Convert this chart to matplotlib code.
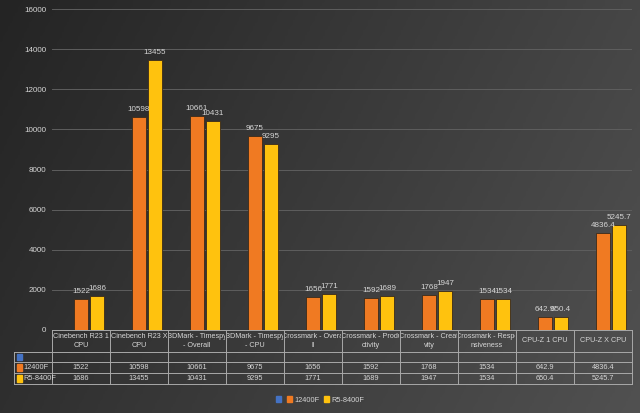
import numpy as np
import matplotlib
matplotlib.use("Agg")
import matplotlib.pyplot as plt
from matplotlib import transforms
from matplotlib.patches import Rectangle

plt.rcParams["font.family"] = ["Liberation Sans", "DejaVu Sans"]

categories = ["Cinebench R23 1\nCPU", "Cinebench R23 X\nCPU", "3DMark - Timespy\n- Overall",
              "3DMark - Timespy\n- CPU", "Crossmark - Overa\nll", "Crossmark - Produ\nctivity",
              "Crossmark - Creati\nvity", "Crossmark - Respo\nnsiveness", "CPU-Z 1 CPU", "CPU-Z X CPU"]
series_names = ["", "12400F", "R5-8400F"]
vals_12400f = [1522, 10598, 10661, 9675, 1656, 1592, 1768, 1534, 642.9, 4836.4]
vals_r5 = [1686, 13455, 10431, 9295, 1771, 1689, 1947, 1534, 650.4, 5245.7]
yticks = [0, 2000, 4000, 6000, 8000, 10000, 12000, 14000, 16000]

colors = ["#4472C4", "#F07A22", "#FFC20E"]
txt = "#d6d6d6"
fs = 5.3

fig = plt.figure(figsize=(6.4, 4.13), dpi=100)
# background gradient
bg = fig.add_axes([0, 0, 1, 1], zorder=-10)
gx = np.linspace(0, 1, 256)
gy = np.linspace(0, 1, 128)
G = 0.55 * gx[None, :] + 0.45 * gy[:, None] * 0.4
bg.imshow(G, aspect="auto", cmap=matplotlib.colors.LinearSegmentedColormap.from_list(
    "g", ["#242424", "#525252"]), extent=[0, 1, 0, 1], origin="upper", vmin=0, vmax=0.75)
bg.axis("off")

ax = fig.add_axes([52/640, 1-330/413, 580/640, 321/413])
ax.set_facecolor("none")
n = len(categories)
x = np.arange(n)
slot = 0.276
bw = 0.225
series_vals = [[np.nan]*n, vals_12400f, vals_r5]
for k, vals in enumerate(series_vals):
    off = (k - 1) * slot
    ax.bar(x + off, vals, width=bw, color=colors[k], edgecolor="#3a2a1a", linewidth=0.6, zorder=3)
    if k > 0:
        for xi, v in zip(x, vals):
            lab = f"{v:g}"
            ax.text(xi + off, v + 200, lab, ha="center", va="bottom", color=txt, fontsize=fs + 0.5,
                    zorder=4)

ax.set_xlim(-0.5, n - 0.5)
ax.set_ylim(0, 16000)
ax.set_yticks(yticks)
ax.set_yticklabels([str(t) for t in yticks], color=txt, fontsize=fs + 0.5)
ax.tick_params(axis="y", length=0, pad=4)
ax.set_xticks([])
ax.grid(axis="y", color="#5e5e5e", linewidth=0.7, zorder=0)
for s in ax.spines.values():
    s.set_visible(False)

# table
tr = transforms.blended_transform_factory(ax.transData, fig.transFigure)
def fy(p):
    return 1 - p/413
lc = "#a8a8a8"
row_y = [330, 352, 362, 373, 384]
xl = -0.5 - 38/58
ax.plot([-0.5, n-0.5], [fy(330)]*2, transform=tr, color=lc, lw=0.7, clip_on=False)
for yy in row_y[1:]:
    ax.plot([xl, n-0.5], [fy(yy)]*2, transform=tr, color=lc, lw=0.7, clip_on=False)
for i in range(n + 1):
    ax.plot([i-0.5, i-0.5], [fy(330), fy(384)], transform=tr, color=lc, lw=0.7, clip_on=False)
ax.plot([xl, xl], [fy(352), fy(384)], transform=tr, color=lc, lw=0.7, clip_on=False)
for i, c in enumerate(categories):
    t = ax.text(i, fy(341), c, transform=tr, ha="center", va="center", color=txt, fontsize=fs - 0.1,
                linespacing=1.35)
    cb = transforms.TransformedBbox(transforms.Bbox([[i - 0.49, fy(352)], [i + 0.49, fy(330)]]), tr)
    t.set_clip_box(cb)
    t.set_clip_on(True)
for r, (name, vals) in enumerate(zip(series_names, series_vals)):
    yc = fy((row_y[r+1] + row_y[r+2]) / 2)
    ax.add_patch(Rectangle((xl + 0.05, yc - 0.008), 0.09, 0.016, transform=tr, color=colors[r],
                           clip_on=False))
    ax.text(xl + 0.16, yc, name, transform=tr, ha="left", va="center", color=txt, fontsize=fs,
            clip_on=False)
    if r > 0:
        for i, v in enumerate(vals):
            ax.text(i, yc, f"{v:g}", transform=tr, ha="center", va="center", color=txt,
                    fontsize=fs, clip_on=False)

# legend
handles = [Rectangle((0, 0), 1, 1, color=c) for c in colors]
fig.legend(handles, series_names, loc="center", bbox_to_anchor=(0.5, 1-400/413), ncol=3,
           frameon=False, fontsize=fs, labelcolor=txt, handlelength=0.7, handleheight=0.7,
           handletextpad=0.3, columnspacing=0.6)

fig.savefig("out.png", dpi=100)
